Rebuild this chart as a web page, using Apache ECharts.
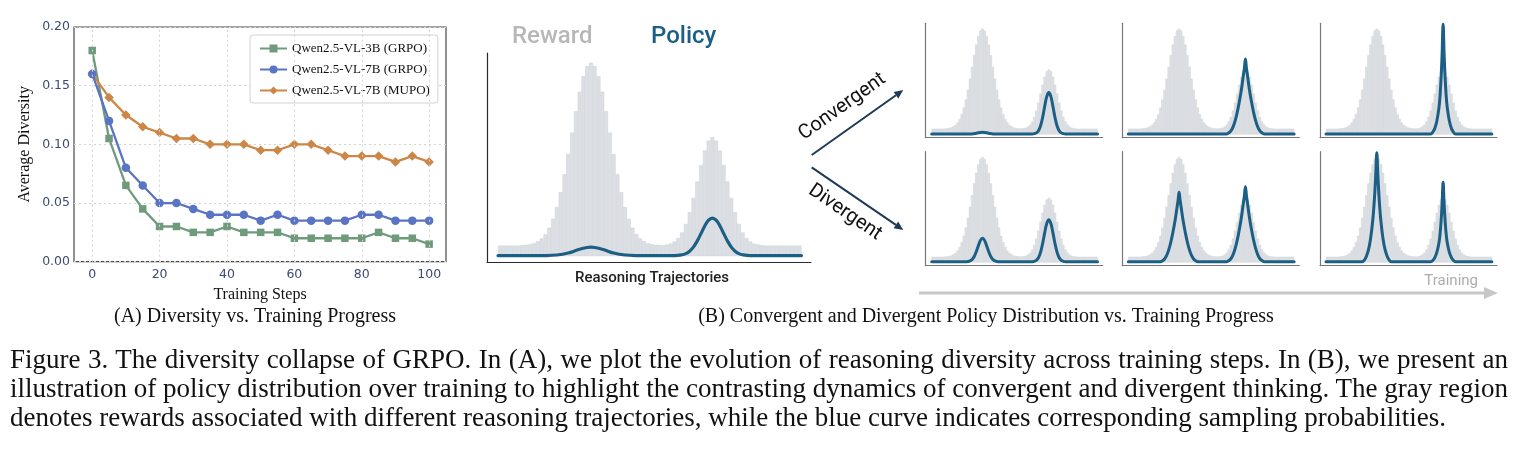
<!DOCTYPE html>
<html>
<head>
<meta charset="utf-8">
<script src="https://cdn.jsdelivr.net/npm/echarts@6/dist/echarts.min.js"></script>
<style>
  html, body { margin: 0; padding: 0; background: #fff; }
  #chart { position: absolute; left: 0; top: 0; width: 1517px; height: 456px; }
  #caption {
    position: absolute; left: 10px; top: 345px; width: 1498px;
    font-family: "Liberation Serif", "Times New Roman", serif;
    font-size: 27px; line-height: 29px; color: #111;
  }
  #caption div { text-align: justify; text-align-last: justify; }
  #caption div.last { text-align: left; text-align-last: left; }
</style>
</head>
<body>
<div id="chart"></div>
<div id="caption">
  <div>Figure 3. The diversity collapse of GRPO. In (A), we plot the evolution of reasoning diversity across training steps. In (B), we present an</div>
  <div>illustration of policy distribution over training to highlight the contrasting dynamics of convergent and divergent thinking. The gray region</div>
  <div class="last">denotes rewards associated with different reasoning trajectories, while the blue curve indicates corresponding sampling probabilities.</div>
</div>
<script>
// (A) 多样性随训练步数变化
const steps = [0, 5, 10, 15, 20, 25, 30, 35, 40, 45, 50, 55, 60, 65, 70, 75, 80, 85, 90, 95, 100];
const grpo3b = [0.18, 0.105, 0.065, 0.045, 0.03, 0.03, 0.025, 0.025, 0.03, 0.025, 0.025, 0.025, 0.02, 0.02, 0.02, 0.02, 0.02, 0.025, 0.02, 0.02, 0.015];
const grpo7b = [0.16, 0.12, 0.08, 0.065, 0.05, 0.05, 0.045, 0.04, 0.04, 0.04, 0.035, 0.04, 0.035, 0.035, 0.035, 0.035, 0.04, 0.04, 0.035, 0.035, 0.035];
const mupo7b = [0.16, 0.14, 0.125, 0.115, 0.11, 0.105, 0.105, 0.1, 0.1, 0.1, 0.095, 0.095, 0.1, 0.1, 0.095, 0.09, 0.09, 0.09, 0.085, 0.09, 0.085];
const stepTicks = [0, 20, 40, 60, 80, 100];
const seriesNames = ['Qwen2.5-VL-3B (GRPO)', 'Qwen2.5-VL-7B (GRPO)', 'Qwen2.5-VL-7B (MUPO)'];

// (B) reward 直方图（80 个轨迹桶，所有面板共用）
const reward = [
  5.5, 5.5, 5.5, 5.5, 5.5, 5.5, 5.7, 5.9, 6.2, 6.7,
  7.7, 9.2, 11.4, 14.7, 19.3, 25.4, 33.1, 42.3, 52.8, 63.9,
  75.0, 85.0, 93.0, 98.2, 100, 98.2, 93.0, 85.0, 75.0, 63.9,
  52.8, 42.3, 33.1, 25.4, 19.3, 14.7, 11.4, 9.2, 7.7, 6.7,
  6.2, 5.9, 5.8, 5.7, 6.0, 6.5, 7.6, 9.4, 12.3, 16.7,
  22.7, 30.1, 38.6, 47.1, 54.6, 59.7, 61.5, 59.7, 54.6, 47.1,
  38.6, 30.1, 22.7, 16.7, 12.3, 9.4, 7.6, 6.5, 6.0, 5.7,
  5.5, 5.5, 5.5, 5.5, 5.5, 5.5, 5.5, 5.5, 5.5, 5.5
];

// policy 曲线 [轨迹位置, 概率]
const policyStart = [[-0.5, 0.3], [12, 0.34], [15, 0.6], [18, 1.65], [21, 3.57], [24, 4.7], [27, 3.57], [30, 1.65], [33, 0.6], [36, 0.34],
  [46, 0.3], [48, 0.73], [49, 1.35], [50, 2.6], [51, 4.7], [52, 7.8], [53, 11.65], [54, 15.6], [55, 18.6], [56, 19.7],
  [57, 18.6], [58, 15.6], [59, 11.65], [60, 7.8], [61, 4.7], [62, 2.6], [63, 1.35], [64, 0.73], [66, 0.3], [79.5, 0.3]];
const convergent1 = [[-0.5, 0.6], [19, 0.6], [21, 1.3], [24, 2.1], [27, 1.3], [29, 0.6],
  [48, 0.6], [49, 0.85], [50, 1.55], [51, 3.6], [52, 8.1], [53, 16.0], [54, 26.4], [55, 35.8], [56, 39.6],
  [57, 35.8], [58, 26.4], [59, 16.0], [60, 8.1], [61, 3.6], [62, 1.55], [63, 0.85], [64, 0.6], [79.5, 0.6]];
const convergent2 = [[-0.5, 0.6], [47, 0.6], [48, 1.7], [49, 3.4], [50, 7.0], [51, 12.6], [52, 20.4], [53, 30.3], [54, 41.5], [55, 55.7], [55.5, 62.7], [56, 71.2],
  [56.5, 62.7], [57, 55.7], [58, 41.5], [59, 30.3], [60, 20.4], [61, 12.6], [62, 7.0], [63, 3.4], [64, 1.7], [65, 0.6], [79.5, 0.6]];
const convergent3 = [[-0.5, 0.6], [50, 0.6], [51, 2.2], [52, 5.8], [53, 13.0], [54, 25.4], [54.5, 35.8], [55, 52.3], [55.5, 75.0], [56, 104],
  [56.5, 75.0], [57, 52.3], [57.5, 35.8], [58, 25.4], [59, 13.0], [60, 5.8], [61, 2.2], [62, 0.6], [79.5, 0.6]];
const divergent1 = [[-0.5, 0.8], [16, 0.8], [17, 1.0], [18, 1.5], [19, 2.9], [20, 5.7], [21, 10.3], [22, 16.0], [23, 21.0], [24, 23.0],
  [25, 21.0], [26, 16.0], [27, 10.3], [28, 5.7], [29, 2.9], [30, 1.5], [31, 1.0], [32, 0.8],
  [48, 0.8], [49, 1.2], [50, 2.1], [51, 4.5], [52, 9.6], [53, 17.8], [54, 28.1], [55, 37.0], [56, 40.6],
  [57, 37.0], [58, 28.1], [59, 17.8], [60, 9.6], [61, 4.5], [62, 2.1], [63, 1.2], [64, 0.8], [79.5, 0.8]];
const divergent2 = [[-0.5, 0.8], [15, 0.8], [16, 1.8], [17, 3.4], [18, 6.7], [19, 12.0], [20, 19.2], [21, 28.4], [22, 39.0], [23, 52.1], [23.5, 58.7], [24, 66.6],
  [24.5, 58.7], [25, 52.1], [26, 39.0], [27, 28.4], [28, 19.2], [29, 12.0], [30, 6.7], [31, 3.4], [32, 1.8], [33, 0.8],
  [47, 0.8], [48, 1.9], [49, 3.6], [50, 7.2], [51, 12.9], [52, 20.7], [53, 30.6], [54, 42.0], [55, 56.2], [55.5, 63.3], [56, 71.8],
  [56.5, 63.3], [57, 56.2], [58, 42.0], [59, 30.6], [60, 20.7], [61, 12.9], [62, 7.2], [63, 3.6], [64, 1.9], [65, 0.8], [79.5, 0.8]];
const divergent3 = [[-0.5, 0.8], [17, 0.8], [18, 2.3], [19, 6.0], [20, 12.2], [21, 22.5], [22, 39.0], [22.5, 50.3], [23, 64.8], [23.5, 83.4], [24, 104],
  [24.5, 83.4], [25, 64.8], [25.5, 50.3], [26, 39.0], [27, 22.5], [28, 12.2], [29, 6.0], [30, 2.3], [31, 0.8],
  [50, 0.8], [51, 1.9], [52, 4.6], [53, 9.8], [54, 18.8], [54.5, 26.4], [55, 38.4], [55.5, 55.0], [56, 76],
  [56.5, 55.0], [57, 38.4], [57.5, 26.4], [58, 18.8], [59, 9.8], [60, 4.6], [61, 1.9], [62, 0.8], [79.5, 0.8]];

const policyColor = '#1c5f85';
const serifFont = '"Liberation Serif", "Times New Roman", serif';

// 面板布局：[left, top, width, height]
const panels = [
  { rect: [487, 53, 324, 209], policy: policyStart, spine: '#2a2a2a', lw: 3.2, barBorder: '#cdd1d6', barWidth: '100%' },
  { rect: [925.7, 23.3, 177, 114.4], policy: convergent1, spine: '#777', lw: 3, barBorder: '#d3d6da', barWidth: '118%' },
  { rect: [1122.3, 23.3, 177, 114.4], policy: convergent2, spine: '#777', lw: 3, barBorder: '#d3d6da', barWidth: '118%' },
  { rect: [1320, 23.3, 177, 114.4], policy: convergent3, spine: '#777', lw: 3, barBorder: '#d3d6da', barWidth: '118%' },
  { rect: [925.7, 151.7, 177, 114], policy: divergent1, spine: '#777', lw: 3, barBorder: '#d3d6da', barWidth: '118%' },
  { rect: [1122.3, 151.7, 177, 114], policy: divergent2, spine: '#777', lw: 3, barBorder: '#d3d6da', barWidth: '118%' },
  { rect: [1320, 151.7, 177, 114], policy: divergent3, spine: '#777', lw: 3, barBorder: '#d3d6da', barWidth: '118%' }
];

function arrow(x1, y1, x2, y2, color, width, headLen, headHalf) {
  const a = Math.atan2(y2 - y1, x2 - x1);
  const bx = x2 - headLen * Math.cos(a), by = y2 - headLen * Math.sin(a);
  const nx = -Math.sin(a) * headHalf, ny = Math.cos(a) * headHalf;
  return [
    { type: 'line', silent: true, shape: { x1: x1, y1: y1, x2: bx, y2: by }, style: { stroke: color, lineWidth: width } },
    { type: 'polygon', silent: true, shape: { points: [[x2, y2], [bx + nx, by + ny], [bx - nx, by - ny]] }, style: { fill: color } }
  ];
}

function label(text, x, y, font, fill, align, rotation) {
  return {
    type: 'text', silent: true, x: x, y: y, rotation: rotation || 0,
    style: { text: text, x: 0, y: 0, font: font, fill: fill, textAlign: align || 'center', textVerticalAlign: 'middle' }
  };
}

const grid = [{ left: 74, top: 27, width: 372, height: 234.7, show: true, borderColor: '#4a4a4a', borderWidth: 1.2 }];
const xAxis = [{
  gridIndex: 0, type: 'value', min: -5.4, max: 105,
  name: 'Training Steps', nameLocation: 'middle', nameGap: 22,
  nameTextStyle: { fontFamily: serifFont, fontSize: 16, color: '#111' },
  axisLine: { show: false }, axisTick: { show: false }, splitLine: { show: false },
  axisLabel: { customValues: stepTicks, margin: 7, fontFamily: 'DejaVu Sans', fontSize: 12.5, color: '#3d4a72' }
}];
const yAxis = [{
  gridIndex: 0, type: 'value', min: 0, max: 0.2, interval: 0.05,
  name: 'Average Diversity', nameLocation: 'middle', nameGap: 41,
  nameTextStyle: { fontFamily: serifFont, fontSize: 16, color: '#111' },
  axisLine: { show: false }, axisTick: { show: false },
  splitLine: { lineStyle: { color: '#d3d3d3', type: [2, 3] } },
  axisLabel: { margin: 4, fontFamily: 'DejaVu Sans', fontSize: 12.5, color: '#3d4a72', formatter: v => v.toFixed(2) }
}];

const lineBase = { type: 'line', xAxisIndex: 0, yAxisIndex: 0, lineStyle: { width: 2.3 }, emphasis: { disabled: true } };
const series = [
  {
    type: 'line', name: 'gridx', data: [], xAxisIndex: 0, yAxisIndex: 0, z: 1,
    markLine: {
      silent: true, symbol: ['none', 'none'], label: { show: false }, animation: false,
      lineStyle: { color: '#d3d3d3', type: [2, 3], width: 1 },
      data: stepTicks.map(v => ({ xAxis: v }))
    }
  },
  Object.assign({}, lineBase, { name: seriesNames[0], z: 3, color: '#6f9b7c', symbol: 'rect', symbolSize: 7.5, data: steps.map((s, i) => [s, grpo3b[i]]) }),
  Object.assign({}, lineBase, { name: seriesNames[2], z: 3, color: '#cd8646', symbol: 'diamond', symbolSize: 9.5, data: steps.map((s, i) => [s, mupo7b[i]]) }),
  Object.assign({}, lineBase, { name: seriesNames[1], z: 4, color: '#5a74c4', symbol: 'circle', symbolSize: 8.5, data: steps.map((s, i) => [s, grpo7b[i]]) })
];

panels.forEach((p, k) => {
  const gi = k + 1;
  grid.push({ left: p.rect[0], top: p.rect[1], width: p.rect[2], height: p.rect[3] });
  const spine = { show: true, onZero: false, lineStyle: { color: p.spine, width: 1.2 } };
  xAxis.push({ gridIndex: gi, type: 'value', min: -3.4, max: 82, axisLine: spine, axisTick: { show: false }, axisLabel: { show: false }, splitLine: { show: false } });
  yAxis.push({ gridIndex: gi, type: 'value', min: -3, max: 105, axisLine: spine, axisTick: { show: false }, axisLabel: { show: false }, splitLine: { show: false } });
  series.push({
    type: 'bar', xAxisIndex: gi, yAxisIndex: gi, silent: true, barWidth: p.barWidth,
    itemStyle: { color: '#dcdfe3', borderColor: p.barBorder, borderWidth: 0.5 },
    data: reward.map((v, i) => [i, v])
  });
  series.push({
    type: 'line', xAxisIndex: gi, yAxisIndex: gi, silent: true, z: 3, clip: false,
    smooth: 0.4, symbol: 'none', lineStyle: { color: policyColor, width: p.lw, cap: 'round', join: 'round' },
    data: p.policy
  });
});

const graphic = [].concat(
  label('Reward', 512, 37, '500 24px Roboto', '#b7b7b7', 'left'),
  label('Policy', 651, 37, '500 24px Roboto', policyColor, 'left'),
  label('Reasoning Trajectories', 652, 278, '500 15px Roboto', '#222'),
  arrow(811.7, 155, 903.3, 90, '#1e3a56', 2, 9, 4),
  arrow(811.7, 167.3, 903.3, 230, '#1e3a56', 2, 9, 4),
  label('Convergent', 842.3, 106.7, '20px Roboto', '#111', 'center', 0.618),
  label('Divergent', 845, 212.3, '20px Roboto', '#111', 'center', -0.60),
  arrow(919, 293, 1498, 293, '#c8c8c8', 3, 14, 6),
  label('Training', 1478, 281, '15px Roboto', '#acacac', 'right'),
  label('(A) Diversity vs. Training Progress', 255, 317, '20px ' + serifFont, '#111'),
  label('(B) Convergent and Divergent Policy Distribution vs. Training Progress', 986, 317, '20px ' + serifFont, '#111')
);

const chart = echarts.init(document.getElementById('chart'));
chart.setOption({
  animation: false,
  legend: {
    data: seriesNames, orient: 'vertical', left: 250, top: 35,
    padding: [7, 8, 6, 9], itemGap: 8, itemWidth: 27, itemHeight: 10,
    borderColor: '#d2d2d2', borderWidth: 1, borderRadius: 3, backgroundColor: '#fff',
    textStyle: { fontFamily: serifFont, fontSize: 13, color: '#111' }
  },
  grid: grid,
  xAxis: xAxis,
  yAxis: yAxis,
  series: series,
  graphic: graphic
});
window.addEventListener('resize', () => chart.resize());
</script>
</body>
</html>
